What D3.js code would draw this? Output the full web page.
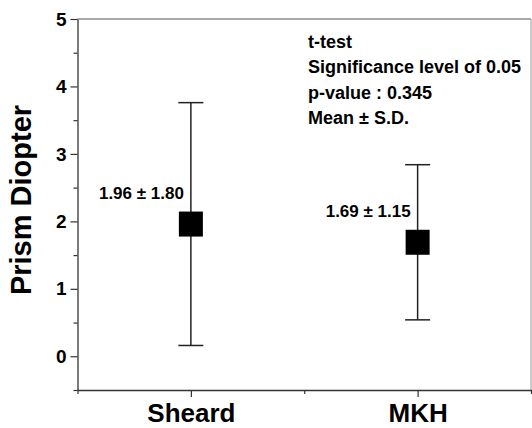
<!DOCTYPE html>
<html>
<head>
<meta charset="utf-8">
<script src="https://cdn.jsdelivr.net/npm/d3@7"></script>
<style>
  html, body { margin: 0; padding: 0; background: #fff; }
  svg { display: block; font-family: "Liberation Sans", Arial, sans-serif; }
</style>
</head>
<body>
<svg id="chart" width="532" height="428"></svg>
<script>
const categories = ["Sheard", "MKH"];
const means = [1.96, 1.69];
const sds = [1.80, 1.15];
const yMajorTicks = [0, 1, 2, 3, 4, 5];
const yMinorTicks = [-0.5, 0.5, 1.5, 2.5, 3.5, 4.5];
const xMinorTicks = [0, 2, 4];
const notes = ["t-test", "Significance level of 0.05", "p-value : 0.345", "Mean \u00B1 S.D."];
const yTitle = "Prism Diopter";

(function () {
const svg = d3.select("#chart");
const pl = 77.5, pr = 531, pt = 19, pb = 390;
const FONT = "'Liberation Sans', Arial, sans-serif";

const x = d3.scaleLinear().domain([0, 4]).range([pl, pr]);
const y = d3.scaleLinear().domain([-0.5, 5]).range([pb, pt]);
const catX = i => x(i * 2 + 1);

// frame top and right
svg.append("line").attr("x1", pl).attr("x2", pr).attr("y1", pt).attr("y2", pt)
  .attr("stroke", "#555").attr("stroke-width", 1.2);
svg.append("line").attr("x1", pr).attr("x2", pr).attr("y1", pt).attr("y2", pb)
  .attr("stroke", "#999").attr("stroke-width", 1);

// Y axis
const yAxis = svg.append("g").attr("transform", `translate(${pl},0)`)
  .call(d3.axisLeft(y).tickValues(yMajorTicks).tickSize(7).tickSizeOuter(0).tickFormat(d3.format("d")));
yAxis.select(".domain").attr("stroke", "#333").attr("stroke-width", 1.3);
yAxis.selectAll(".tick line").attr("stroke", "#333").attr("stroke-width", 1.2);
yAxis.selectAll(".tick text")
  .style("font-size", "19px").style("font-weight", "bold").style("font-family", FONT)
  .style("fill", "#000").attr("x", -11);
const yMinor = svg.append("g").attr("transform", `translate(${pl},0)`)
  .call(d3.axisLeft(y).tickValues(yMinorTicks).tickSize(4).tickSizeOuter(0).tickFormat(""));
yMinor.select(".domain").remove();
yMinor.selectAll(".tick line").attr("stroke", "#333").attr("stroke-width", 1.2);

// X axis
const xAxis = svg.append("g").attr("transform", `translate(0,${pb})`)
  .call(d3.axisBottom(x).tickValues(categories.map((c, i) => i * 2 + 1)).tickSize(7).tickSizeOuter(0)
    .tickFormat((d) => categories[(d - 1) / 2]));
xAxis.select(".domain").attr("stroke", "#333").attr("stroke-width", 1.3);
xAxis.selectAll(".tick line").attr("stroke", "#333").attr("stroke-width", 1.2);
xAxis.selectAll(".tick text")
  .style("font-size", "26px").style("font-weight", "bold").style("font-family", FONT)
  .style("fill", "#000").attr("dy", null).attr("y", 32);
const xMinor = svg.append("g").attr("transform", `translate(0,${pb})`)
  .call(d3.axisBottom(x).tickValues(xMinorTicks).tickSize(4).tickSizeOuter(0).tickFormat(""));
xMinor.select(".domain").remove();
xMinor.selectAll(".tick line").attr("stroke", "#333").attr("stroke-width", 1.2);

// Y title
svg.append("text")
  .attr("transform", `translate(31,200) rotate(-90)`)
  .attr("text-anchor", "middle")
  .style("font-size", "29px").style("font-weight", "bold").style("font-family", FONT).style("fill", "#000")
  .text(yTitle);

// error bars
const capW = 12.5;
const g = svg.append("g");
categories.forEach((c, i) => {
  const cx = catX(i);
  const hi = means[i] + sds[i], lo = means[i] - sds[i];
  g.append("line").attr("x1", cx).attr("x2", cx).attr("y1", y(hi)).attr("y2", y(lo))
    .attr("stroke", "#222").attr("stroke-width", 1.5);
  [hi, lo].forEach(v => {
    g.append("line").attr("x1", cx - capW).attr("x2", cx + capW).attr("y1", y(v)).attr("y2", y(v))
      .attr("stroke", "#222").attr("stroke-width", 1.5);
  });
  g.append("rect").attr("x", cx - 12).attr("y", y(means[i]) - 12.5)
    .attr("width", 24).attr("height", 25).attr("fill", "#000");
  g.append("text").attr("x", cx - 7).attr("y", y(means[i]) - 25)
    .attr("text-anchor", "end")
    .style("font-size", "17px").style("font-weight", "bold").style("font-family", FONT).style("fill", "#000")
    .text(`${means[i].toFixed(2)} \u00B1 ${sds[i].toFixed(2)}`);
});

// notes
const nt = svg.append("g");
notes.forEach((t, i) => {
  nt.append("text").attr("x", 308).attr("y", 48 + i * 25.3)
    .style("font-size", "18px").style("font-weight", "bold").style("font-family", FONT).style("fill", "#000")
    .text(t);
});
})();
</script>
</body>
</html>
